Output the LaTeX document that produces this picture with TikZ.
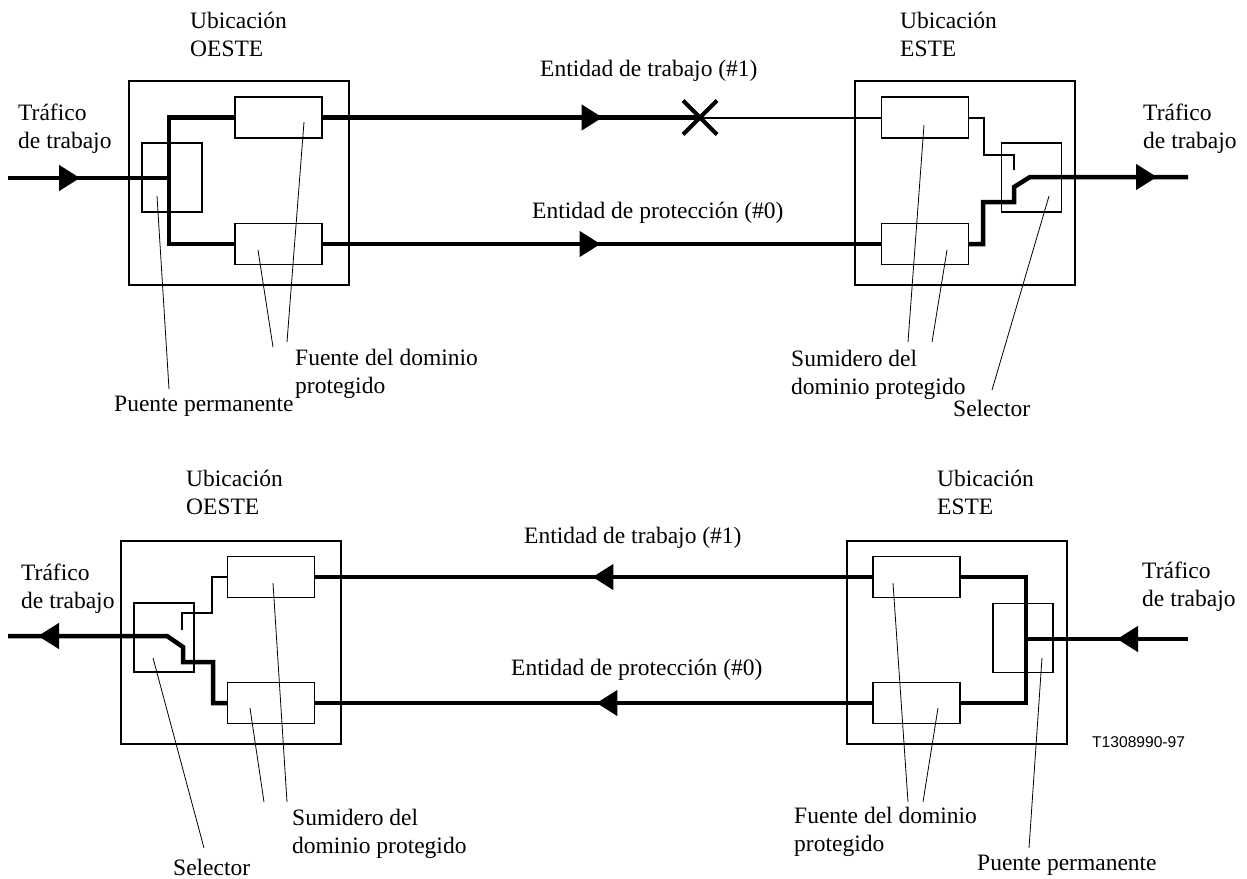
\documentclass[tikz,border=0pt]{standalone}
\usepackage{fontspec}
\setmainfont{Liberation Serif}
\newfontfamily\refsans{Liberation Sans}
\usetikzlibrary{arrows.meta,decorations.markings,shapes.misc}

% two left-aligned lines whose baseline is that of the first line
\newcommand\twoline[2]{\begin{tabular}[t]{@{}l@{}}#1\\#2\end{tabular}}

\tikzset{
  site/.style={draw, line width=1.1, minimum width=220, minimum height=204, inner sep=0},
  unit/.style={draw, fill=white, line width=1.1, minimum width=87, minimum height=41, inner sep=0},
  switchbox/.style={draw, fill=white, line width=1.1, minimum width=60, minimum height=69, inner sep=0},
  traffic/.style={line width=4.5},
  ctrl/.style={line width=2},
  pointer/.style={line width=0.8},
  txt/.style={anchor=base west, inner sep=0, font=\fontsize{23.5}{28.5}\selectfont},
  flowmark/.style={postaction={decorate, decoration={markings,
      mark=at position #1 with {\arrow{Triangle[length=21pt,width=25pt]}}}}},
}

\begin{document}
\begin{tikzpicture}[x=1pt, y=-1pt]
\useasboundingbox (0,0) rectangle (1247,878);

% ================= upper diagram: traffic west -> east =================
\node[site] (tW) at (239,183) {};
\node[site] (tE) at (965,183) {};

\node[switchbox] (tWbr) at (172,177.5) {};
\node[unit] (tWa) at (278.5,117.5) {};
\node[unit] (tWb) at (278.5,244) {};

\node[unit] (tEa) at (925,117.5) {};
\node[unit] (tEb) at (925,244) {};
\node[switchbox] (tEsel) at (1031.5,177.5) {};

% permanent bridge
\coordinate (inW) at (8,178);
\coordinate (jW) at (169,178);
\draw[traffic, flowmark=72pt] (inW) -- (jW);
\draw[traffic] (tWa.west) -- (169,117.5) -- (169,244) -- (tWb.west);

% working entity with failure
\node[draw, cross out, line width=4, minimum size=30, inner sep=0] (brk) at (700,117.5) {};
\draw[traffic, flowmark=280pt] (tWa.east) -- (brk.center);
\draw[ctrl] (brk.center) -- (tEa.west);

% protection entity
\draw[traffic, flowmark=278pt] (tWb.east) -- (tEb.west);

% selector at the sink
\coordinate (swT) at (1014,170);
\draw[ctrl] (tEa.east) -- (984,117.5) -- (984,155) -- (1014,155) -- (swT);
\coordinate (outE) at (1188,177);
\draw[traffic, flowmark=-31pt] (tEb.east) -- (983,244) -- (983,202) -- (1014,202)
  -- (1014,187) -- (1030,177) -- (outE);

% pointers
\coordinate (pA1) at (157,196);  \coordinate (pA2) at (169,389);
\coordinate (pB1) at (304,122);  \coordinate (pB2) at (287,342);
\coordinate (pC1) at (258,250);  \coordinate (pC2) at (273,347);
\coordinate (pD1) at (924,125);  \coordinate (pD2) at (908,342);
\coordinate (pE1) at (947,250);  \coordinate (pE2) at (932,342);
\coordinate (pF1) at (1049,196); \coordinate (pF2) at (992,390);
\draw[pointer] (pA1) -- (pA2);
\draw[pointer] (pB1) -- (pB2);
\draw[pointer] (pC1) -- (pC2);
\draw[pointer] (pD1) -- (pD2);
\draw[pointer] (pE1) -- (pE2);
\draw[pointer] (pF1) -- (pF2);

% texts
\node[txt] (tWhead) at (190,28) {\twoline{Ubicación}{OESTE}};
\node[txt] (tEhead) at (900,28) {\twoline{Ubicación}{ESTE}};
\node[txt] (tWin) at (18,120) {\twoline{Tráfico}{de trabajo}};
\node[txt] (tEout) at (1143,120) {\twoline{Tráfico}{de trabajo}};
\node[txt] (tWork) at (540,76) {Entidad de trabajo (\#1)};
\node[txt] (tProt) at (532,218) {Entidad de protección (\#0)};
\node[txt] (tSrc) at (295,365) {\twoline{Fuente del dominio}{protegido}};
\node[txt] (tBridge) at (114,411) {Puente permanente};
\node[txt] (tSink) at (791,366) {\twoline{Sumidero del}{dominio protegido}};
\node[txt] (tSel) at (953,416) {Selector};

% ================= lower diagram: traffic east -> west =================
\node[site, minimum height=203] (bW) at (231,642.5) {};
\node[site, minimum height=203] (bE) at (957,642.5) {};

\node[unit] (bWa) at (271,577) {};
\node[unit] (bWb) at (271,703) {};
\node[switchbox] (bWsel) at (164,637.5) {};

\node[unit] (bEa) at (916.5,577) {};
\node[unit] (bEb) at (916.5,703) {};
\node[switchbox] (bEbr) at (1023,638) {};

% permanent bridge
\coordinate (inE) at (1188,639);
\coordinate (jE) at (1026,639);
\draw[traffic, flowmark=71pt] (inE) -- (jE);
\draw[traffic] (bEa.east) -- (1026,577) -- (1026,703) -- (bEb.east);

% working and protection entities
\draw[traffic, flowmark=280pt] (bEa.west) -- (bWa.east);
\draw[traffic, flowmark=276pt] (bEb.west) -- (bWb.east);

% selector at the sink
\coordinate (swB) at (182,630);
\draw[ctrl] (bWa.west) -- (212,577) -- (212,613) -- (182,613) -- (swB);
\coordinate (outW) at (8,636);
\draw[traffic, flowmark=-30pt] (bWb.west) -- (213,703) -- (213,662) -- (183,662)
  -- (183,647) -- (167,636) -- (outW);

% pointers
\coordinate (qA1) at (153,658);  \coordinate (qA2) at (204,848);
\coordinate (qB1) at (273,583);  \coordinate (qB2) at (287,802);
\coordinate (qC1) at (250,708);  \coordinate (qC2) at (264,802);
\coordinate (qD1) at (893,583);  \coordinate (qD2) at (908,802);
\coordinate (qE1) at (938,708);  \coordinate (qE2) at (923,802);
\coordinate (qF1) at (1042,658); \coordinate (qF2) at (1029,848);
\draw[pointer] (qA1) -- (qA2);
\draw[pointer] (qB1) -- (qB2);
\draw[pointer] (qC1) -- (qC2);
\draw[pointer] (qD1) -- (qD2);
\draw[pointer] (qE1) -- (qE2);
\draw[pointer] (qF1) -- (qF2);

% texts
\node[txt] (bWhead) at (186,486) {\twoline{Ubicación}{OESTE}};
\node[txt] (bEhead) at (937,486) {\twoline{Ubicación}{ESTE}};
\node[txt] (bWout) at (21,580) {\twoline{Tráfico}{de trabajo}};
\node[txt] (bEin) at (1142,578) {\twoline{Tráfico}{de trabajo}};
\node[txt] (bWork) at (524,543) {Entidad de trabajo (\#1)};
\node[txt] (bProt) at (511,675) {Entidad de protección (\#0)};
\node[txt] (bSink) at (292,825) {\twoline{Sumidero del}{dominio protegido}};
\node[txt] (bSel) at (173,875) {Selector};
\node[txt] (bSrc) at (794,823) {\twoline{Fuente del dominio}{protegido}};
\node[txt] (bBridge) at (977,870) {Puente permanente};
\node[anchor=base west, inner sep=0, font=\refsans\fontsize{15.6}{18}\selectfont] (figid) at (1092,747) {T1308990-97};
\end{tikzpicture}
\end{document}
